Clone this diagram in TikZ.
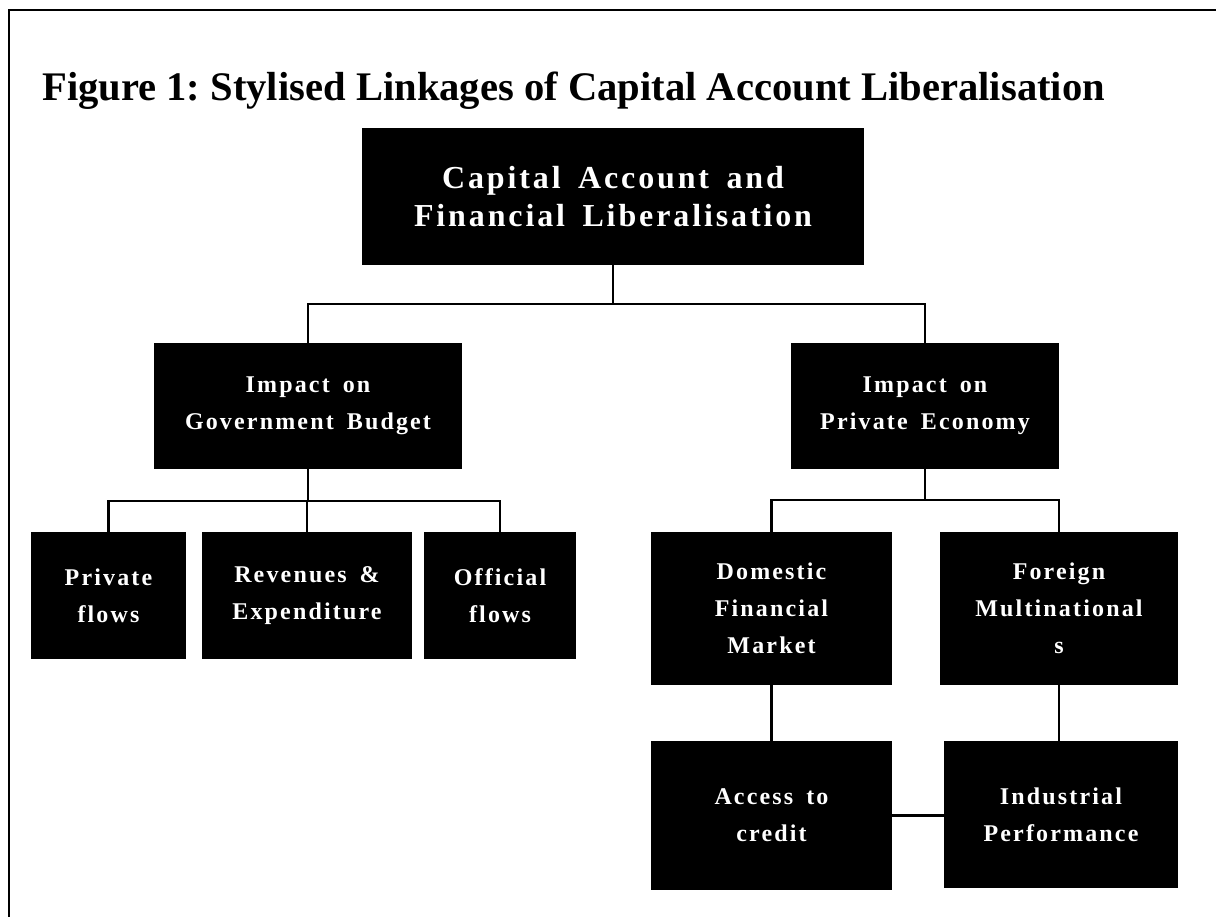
\documentclass[tikz,border=0pt]{standalone}
\usepackage{fontspec}
\setmainfont{Liberation Serif}
\newfontfamily\boxfont[LetterSpace=9,WordSpace=1.6]{Liberation Serif}
\frenchspacing
\begin{document}
\begin{tikzpicture}[x=1pt,y=-1pt,
  blk/.style={fill=black, text=white, inner sep=0pt, align=center, anchor=center,
    font=\boxfont\bfseries\fontsize{24}{37}\selectfont},
  bigblk/.style={blk, font=\boxfont\bfseries\fontsize{32}{38}\selectfont},
  link/.style={line width=2.5pt, draw=black},
  frame/.style={line width=2pt, draw=black}]
\useasboundingbox (0,0) rectangle (1216,917);
% frame (top and left edges visible)
\coordinate (fc) at (9,10);
\coordinate (fr) at (1216,10);
\coordinate (fb) at (9,917);
\draw[frame] (fr) -- (fc) -- (fb);
% title
\node[anchor=base west, inner sep=0pt, font=\bfseries\fontsize{40.6}{44}\selectfont] (title) at (42,101)
  {Figure 1: Stylised Linkages of Capital Account Liberalisation};
% boxes
\node[bigblk, minimum width=502pt, minimum height=137pt] (top) at (613,196.5)
  {Capital Account and\\Financial Liberalisation};
\node[blk, minimum width=308pt, minimum height=126pt] (gov) at (308,406)
  {Impact on\\Government Budget};
\node[blk, minimum width=268pt, minimum height=126pt] (priv) at (925,406)
  {Impact on\\Private Economy};
\node[blk, minimum width=155pt, minimum height=127pt] (pflow) at (108.5,595.5)
  {Private\\flows};
\node[blk, minimum width=210pt, minimum height=127pt] (rev) at (307,595.5)
  {Revenues \&\\Expenditure};
\node[blk, minimum width=152pt, minimum height=127pt] (offl) at (500,595.5)
  {Official\\flows};
\node[blk, minimum width=241pt, minimum height=153pt] (dom) at (771.5,608.5)
  {Domestic\\Financial\\Market};
\node[blk, minimum width=238pt, minimum height=153pt] (frgn) at (1059,608.5)
  {Foreign\\Multinational\\s};
\node[blk, minimum width=241pt, minimum height=149pt] (acc) at (771.5,815.5)
  {Access to\\credit};
\node[blk, minimum width=234pt, minimum height=147pt] (ind) at (1061,814.5)
  {Industrial\\Performance};
% connectors
\coordinate (j1) at (613,304);
\coordinate (j2) at (308,501);
\coordinate (j3) at (925,500);
\draw[link] (top.south) -- (j1);
\draw[link] (gov.north) |- (j1) -| (priv.north);
\draw[link] (gov.south) -- (j2);
\draw[link] (pflow.north) |- (j2) -| (offl.north);
\draw[link] (rev.north) -- (rev.north |- j2);
\draw[link] (priv.south) -- (j3);
\draw[link] (dom.north) |- (j3) -| (frgn.north);
\draw[link] (dom.south) -- (acc.north);
\draw[link] (frgn.south) -- (frgn.south |- ind.north);
\draw[link] (acc.east) -- (ind.west |- acc.east);
\end{tikzpicture}
\end{document}
